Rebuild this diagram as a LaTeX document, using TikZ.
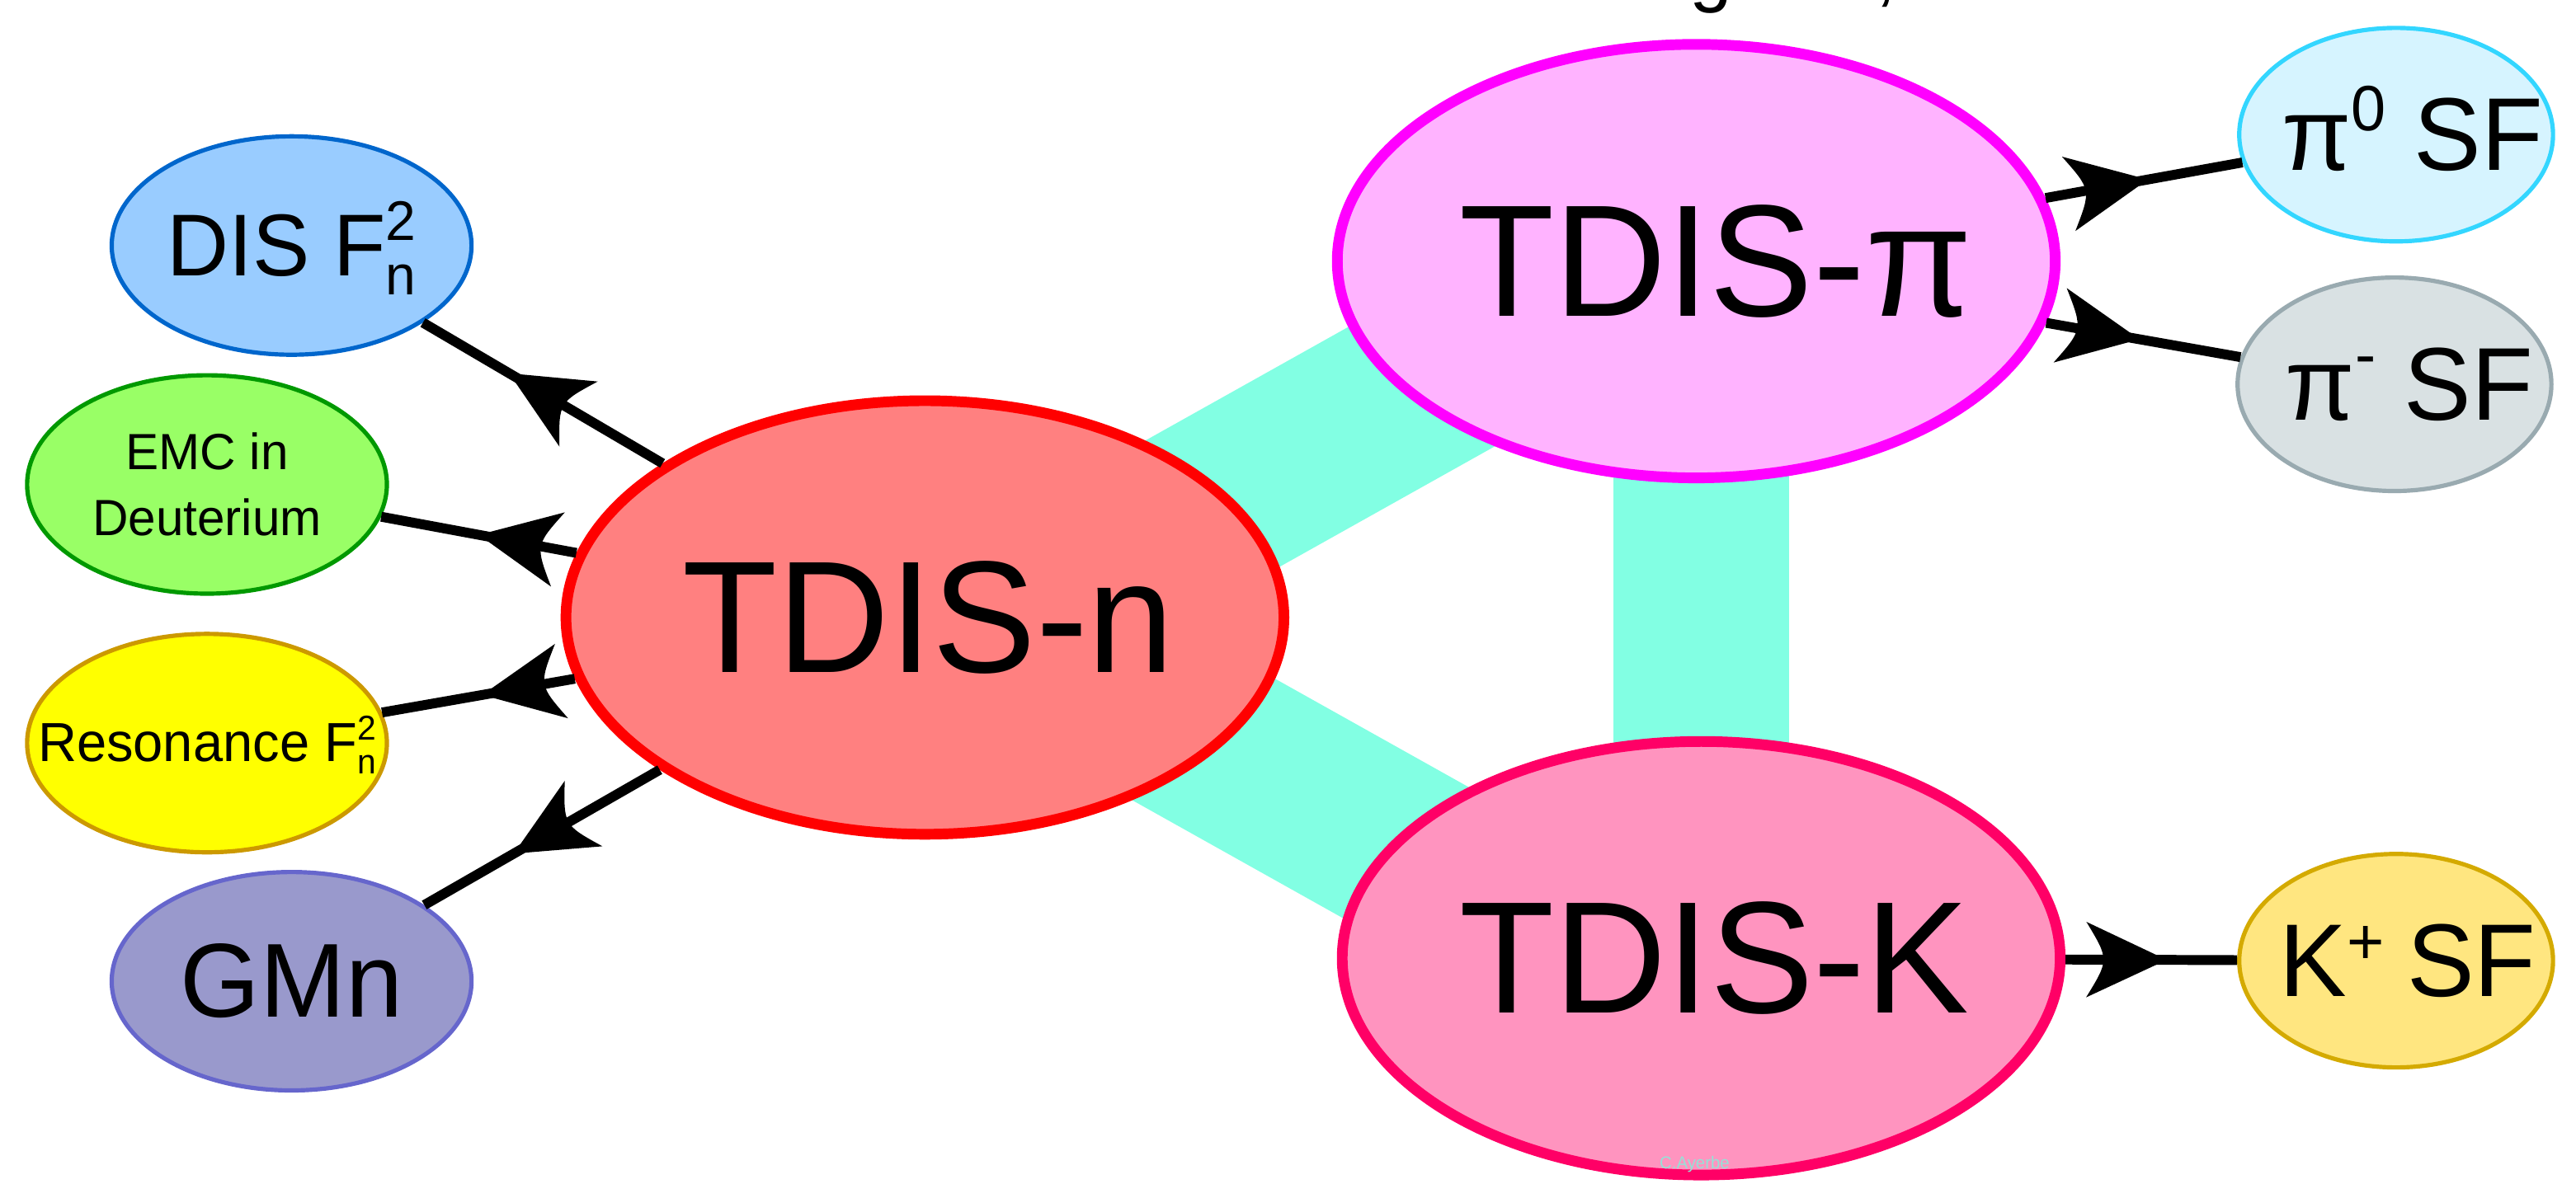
\documentclass[tikz,border=0pt]{standalone}
\usepackage{fontspec}
\setmainfont{Liberation Sans}[FakeStretch=0.975]
\usetikzlibrary{decorations.markings,shapes.geometric}

% fill / border colours of the ellipses
\definecolor{disfill}{HTML}{99CCFF}  \definecolor{disdraw}{HTML}{0066CC}
\definecolor{emcfill}{HTML}{99FF66}  \definecolor{emcdraw}{HTML}{009900}
\definecolor{resfill}{HTML}{FFFF00}  \definecolor{resdraw}{HTML}{CC9900}
\definecolor{gmnfill}{HTML}{9999CC}  \definecolor{gmndraw}{HTML}{6666CC}
\definecolor{nfill}{HTML}{FF8080}    \definecolor{ndraw}{HTML}{FF0000}
\definecolor{pifill}{HTML}{FFB3FF}   \definecolor{pidraw}{HTML}{FF00FF}
\definecolor{kfill}{HTML}{FF94BF}    \definecolor{kdraw}{HTML}{FF0066}
\definecolor{pizfill}{HTML}{D6F4FF}  \definecolor{pizdraw}{HTML}{33D6FF}
\definecolor{pimfill}{HTML}{D9E1E3}  \definecolor{pimdraw}{HTML}{99AAB0}
\definecolor{kpfill}{HTML}{FFE680}   \definecolor{kpdraw}{HTML}{D4AA00}
\definecolor{bandcol}{HTML}{82FFE3}
\definecolor{signcol}{HTML}{96E1D7}

% stacked super/subscript (size, sup, sub) and a raised superscript (size, raise, sup)
\newcommand\supsub[3]{\smash{\rlap{\raisebox{0.40em}{\fontsize{#1}{#1}\selectfont #2}}\raisebox{-0.22em}{\fontsize{#1}{#1}\selectfont #3}}}
\newcommand\supscr[3]{\smash{\raisebox{#2}{\fontsize{#1}{#1}\selectfont #3}}}
% centred label of zero width, moved right by half of #1
\newcommand\lbl[2]{\makebox[0pt]{\hspace*{#1}#2}}

\begin{document}
\begin{tikzpicture}[x=1pt,y=-1pt,
  bignode/.style={ellipse, inner sep=0pt, line width=6.5pt,
    minimum width=437pt, minimum height=264pt,
    font=\fontsize{97}{97}\selectfont},
  leftnode/.style={ellipse, inner sep=0pt, line width=2.6pt,
    minimum width=219pt, minimum height=133pt},
  rightnode/.style={ellipse, inner sep=0pt, line width=2.6pt,
    minimum width=191pt, minimum height=130pt,
    font=\fontsize{63}{63}\selectfont},
  band/.style={line width=107pt, draw=bandcol},
  arr/.style={line width=6pt, draw=black, postaction={decorate},
    decoration={markings, mark=at position #1 with
      {\fill[black] (0,0) -- (-49,23) .. controls (-35,0) .. (-49,-23) -- cycle;}}},
]
\useasboundingbox (0,0) rectangle (1568,720.5);

% descenders of the heading line, cut by the top edge
\node[anchor=base, inner sep=0pt, font=\fontsize{48}{48}\selectfont] (hdg) at (1041.5,-2) {g};
\node[anchor=base, inner sep=0pt, font=\fontsize{48}{48}\selectfont] (hdc) at (1148,-2) {,};

% main ellipses (placed first so the bands can refer to them)
\path
  node[bignode] (tdisn)  at (563,376)      {}
  node[bignode] (tdispi) at (1032.5,159)   {}
  node[bignode] (tdisk)  at (1035.5,583.5) {};

% broad links between the three TDIS channels
\draw[band] ([shift={(37,8)}]tdisn.center)  -- ([shift={(-32.5,1)}]tdispi.center);
\draw[band] ([shift={(37,0)}]tdisn.center)  -- ([shift={(-35.5,16.5)}]tdisk.center);
\draw[band] ([shift={(3,0)}]tdispi.center) -- (tdisk.center);

\node[bignode, fill=nfill, draw=ndraw]   at (tdisn)  {\lbl{4pt}{TDIS-n}};
\node[bignode, fill=pifill, draw=pidraw] at (tdispi) {\lbl{24pt}{TDIS-π}};
\node[bignode, fill=kfill, draw=kdraw]   at (tdisk)  {\lbl{16pt}{TDIS-K}};

% measurements fed by TDIS-n
\node[leftnode, fill=disfill, draw=disdraw, font=\fontsize{53.5}{53.5}\selectfont]
  (dis) at (177.5,149.5) {\lbl{0pt}{DIS F\supsub{34}{2}{n}}};
\node[leftnode, fill=emcfill, draw=emcdraw, align=center,
  font=\fontsize{31}{40}\selectfont]
  (emc) at (126,295) {EMC in\\Deuterium};
\node[leftnode, fill=resfill, draw=resdraw, font=\fontsize{33.5}{33.5}\selectfont]
  (res) at (126,452.5) {\lbl{0pt}{Resonance F\supsub{21}{2}{n}}};
\node[leftnode, fill=gmnfill, draw=gmndraw, font=\fontsize{64}{64}\selectfont]
  (gmn) at (177.5,597.5) {\lbl{0pt}{GMn}};

% structure functions fed by TDIS-pi and TDIS-K
\node[rightnode, fill=pizfill, draw=pizdraw] (piz) at (1458.5,82)
  {\lbl{20pt}{π\supscr{39}{0.38em}{0} SF}};
\node[rightnode, fill=pimfill, draw=pimdraw] (pim) at (1457.5,234)
  {\lbl{18pt}{π\supscr{39}{0.42em}{-} SF}};
\node[rightnode, fill=kpfill, draw=kpdraw]   (kp)  at (1458.5,585)
  {\lbl{14pt}{K\supscr{40}{0.31em}{+}\hspace{0.22em}SF}};

% arrows, head part-way along each line
\draw[arr=0.64] (tdisn) -- (dis);
\draw[arr=0.50] (tdisn) -- (emc);
\draw[arr=0.48] (tdisn) -- (res);
\draw[arr=0.62] (tdisn) -- (gmn);
\draw[arr=0.52] (tdispi) -- (piz);
\draw[arr=0.48] (tdispi) -- (pim);
\draw[arr=0.59] (tdisk) -- (kp);

% signature
\node[inner sep=0pt, text=signcol, font=\fontsize{10.5}{10.5}\selectfont]
  (sign) at (1031.5,709) {C.Ayerbe};
\end{tikzpicture}
\end{document}
